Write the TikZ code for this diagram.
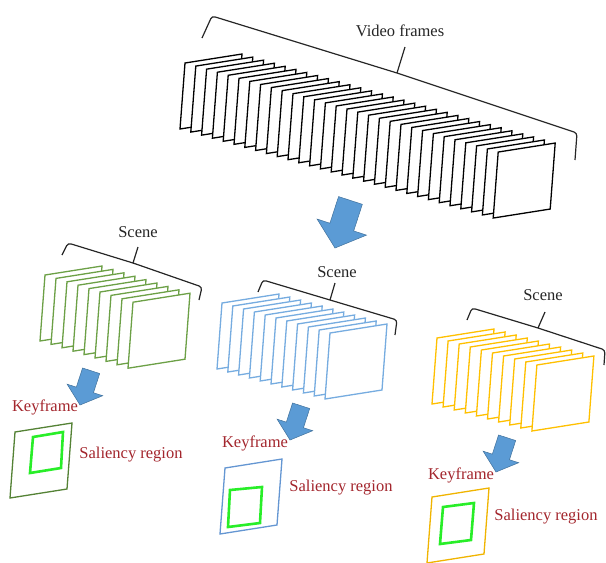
\documentclass[tikz,border=0pt]{standalone}
\usepackage{fontspec}
\setmainfont{Liberation Serif}
\definecolor{scenegreen}{RGB}{108,160,70}
\definecolor{keygreen}{RGB}{84,130,53}
\definecolor{sceneblue}{RGB}{118,172,224}
\definecolor{keyblue}{RGB}{100,150,210}
\definecolor{sceneyellow}{RGB}{255,192,0}
\definecolor{keyyellow}{RGB}{240,180,0}
\definecolor{salgreen}{RGB}{40,238,40}
\definecolor{arrowfill}{RGB}{91,155,213}
\definecolor{arrowedge}{RGB}{65,113,156}
\definecolor{labelred}{RGB}{163,38,45}
\begin{document}
\begin{tikzpicture}[x=1pt,y=-1pt,
  vframe/.pic={\path[pic actions] (0,0) -- (57,-9) -- (52,57) -- (-5,66) -- cycle;},
  blockarrow/.pic={\path[pic actions] (0,0) -- (26,-22) -- (12.5,-22) -- (12.5,-50)
     -- (-12.5,-50) -- (-12.5,-22) -- (-26,-22) -- cycle;},
  framepen/.style={line width=1.3pt, fill=white, line join=miter},
  bracepen/.style={draw=black!85, line width=1.2pt, rounded corners=3pt},
  salpen/.style={draw=salgreen, line width=2.6pt, line join=miter},
  arrowpen/.style={fill=arrowfill, draw=arrowedge, line width=0.5pt},
  lbl/.style={font=\fontsize{16.5}{18}\selectfont, text=black!85, inner sep=0pt},
  redlbl/.style={font=\fontsize{16.5}{18}\selectfont, text=labelred, inner sep=0pt},
]
\useasboundingbox (0,0) rectangle (606,563);

% ---- all video frames ----
\foreach \i in {0,...,29}
  \pic[framepen, draw=black] at ({185+\i*10.8},{63+\i*3.07}) {vframe};
\draw[bracepen] (202,38) -- (212,16) -- (397,73) -- (577,133) -- (575,160);
\draw[bracepen] (397,73) -- (405,47);
\node[lbl] (vf) at (400,31) {Video frames};

% ---- split into scenes ----
\pic[arrowpen, rotate=-18] at (335,248) {blockarrow};

% ---- scene 1 (green) ----
\foreach \i in {0,...,8}
  \pic[framepen, draw=scenegreen] at ({45+\i*11},{275+\i*3.4}) {vframe};
\draw[bracepen] (62,255) -- (68,243) -- (133,263) -- (202,287) -- (199,300);
\draw[bracepen] (133,263) -- (138,247);
\node[lbl] (s1) at (138,232) {Scene};
\pic[arrowpen, rotate=-18, scale=0.72] at (80,405) {blockarrow};
\node[redlbl] (k1) at (45,407) {Keyframe};
\pic[framepen, draw=keygreen] at (15,432) {vframe};
\draw[salpen] (33,437) -- (63,432) -- (61,468) -- (30,473) -- cycle;
\node[redlbl] (r1) at (131,455) {Saliency region};

% ---- scene 2 (blue) ----
\foreach \i in {0,...,10}
  \pic[framepen, draw=sceneblue] at ({222+\i*10.8},{303+\i*3}) {vframe};
\draw[bracepen] (258,292) -- (263,280) -- (330,300) -- (397,320) -- (395,335);
\draw[bracepen] (330,300) -- (335,283);
\node[lbl] (s2) at (337,272) {Scene};
\pic[arrowpen, rotate=-18, scale=0.72] at (290,440) {blockarrow};
\node[redlbl] (k2) at (255,443) {Keyframe};
\pic[framepen, draw=keyblue] at (225,468) {vframe};
\draw[salpen] (230,490) -- (262,487) -- (260,523) -- (228,527) -- cycle;
\node[redlbl] (r2) at (341,488) {Saliency region};

% ---- scene 3 (yellow) ----
\foreach \i in {0,...,9}
  \pic[framepen, draw=sceneyellow] at ({437+\i*11.1},{338+\i*3}) {vframe};
\draw[bracepen] (467,320) -- (472,308) -- (538,328) -- (605,350) -- (604,365);
\draw[bracepen] (538,328) -- (545,312);
\node[lbl] (s3) at (543,295) {Scene};
\pic[arrowpen, rotate=-18, scale=0.72] at (496,472) {blockarrow};
\node[redlbl] (k3) at (461,475) {Keyframe};
\pic[framepen, draw=keyyellow] at (432,497) {vframe};
\draw[salpen] (443,507) -- (474,503) -- (471,540) -- (440,544) -- cycle;
\node[redlbl] (r3) at (546,517) {Saliency region};
\end{tikzpicture}
\end{document}
